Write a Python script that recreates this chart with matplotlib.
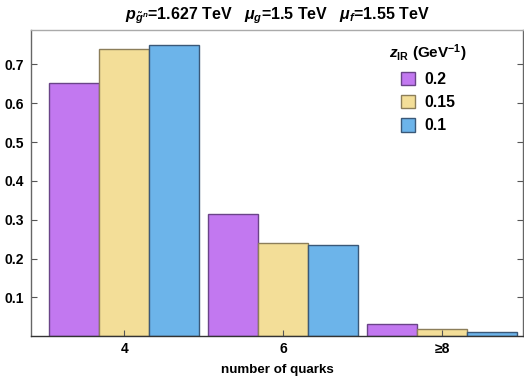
import matplotlib
matplotlib.use("Agg")
import matplotlib.pyplot as plt
import numpy as np

categories = ["4", "6", "≥8"]
series_labels = ["0.2", "0.15", "0.1"]
values_02 = [0.651, 0.314, 0.031]
values_015 = [0.739, 0.239, 0.019]
values_01 = [0.750, 0.235, 0.0106]
yticks = [0.1, 0.2, 0.3, 0.4, 0.5, 0.6, 0.7]

fills = ["#C278F0", "#F3DE98", "#6CB4EA"]
edges = ["#6A4488", "#8C7E5A", "#3A5878"]

plt.rcParams['font.family'] = ['Liberation Sans', 'DejaVu Sans']
plt.rcParams['mathtext.fontset'] = 'custom'
plt.rcParams['mathtext.it'] = 'Liberation Sans:italic:bold'
plt.rcParams['mathtext.rm'] = 'Liberation Sans:bold'
plt.rcParams['mathtext.bf'] = 'Liberation Sans:bold'

fig = plt.figure(figsize=(5.24, 3.76), dpi=100)
ax = fig.add_axes([31/524, 1-336.2/376, (523-31)/524, (336.2-29.5)/376])

x = np.arange(len(categories))
w = 0.315
series = [values_02, values_015, values_01]
handles = []
for i, vals in enumerate(series):
    b = ax.bar(x + (i-1)*w, vals, width=w, color=fills[i], edgecolor=edges[i],
               linewidth=1.0, label=series_labels[i])
    handles.append(b)

ax.set_xlim(-0.589, 2.511)
ax.set_ylim(0, 0.79)
ax.set_xticks(x)
ax.set_xticklabels(categories, fontsize=10, fontweight='bold')
ax.set_yticks(yticks)
ax.set_yticklabels([f"{t:.1f}" for t in yticks], fontsize=10, fontweight='bold')
ax.tick_params(axis='both', direction='in', length=4, width=0.8, color='#555555', pad=4)
ax.tick_params(axis='y', right=True, labelright=False, pad=5)
for s in ax.spines.values():
    s.set_color('#666666')
    s.set_linewidth(1.0)
ax.spines['top'].set_color('#aaaaaa')
ax.spines['bottom'].set_color('#333333')

ax.set_xlabel("number of quarks", fontsize=9.6, fontweight='bold', labelpad=6)
fig.text(277/524, 1-16/376,
         r"$p_{\tilde{g}^n}$=1.627 TeV   $\mu_g$=1.5 TeV   $\mu_f$=1.55 TeV",
         ha='center', va='center', fontsize=11.5, fontweight='bold')

leg = ax.legend(handles=handles, labels=series_labels, loc='upper left',
                bbox_to_anchor=(389/524, 1-42.5/376), bbox_transform=fig.transFigure,
                frameon=False, prop={'size': 11.3, 'weight': 'bold'},
                title=r"$z_{\mathrm{IR}}$ (GeV$^{-1}$)",
                title_fontproperties={'size': 11, 'weight': 'bold'},
                handlelength=0.95, handleheight=0.95, labelspacing=0.5,
                handletextpad=0.55, borderaxespad=0, borderpad=0)

fig.savefig("out.png", dpi=100)
